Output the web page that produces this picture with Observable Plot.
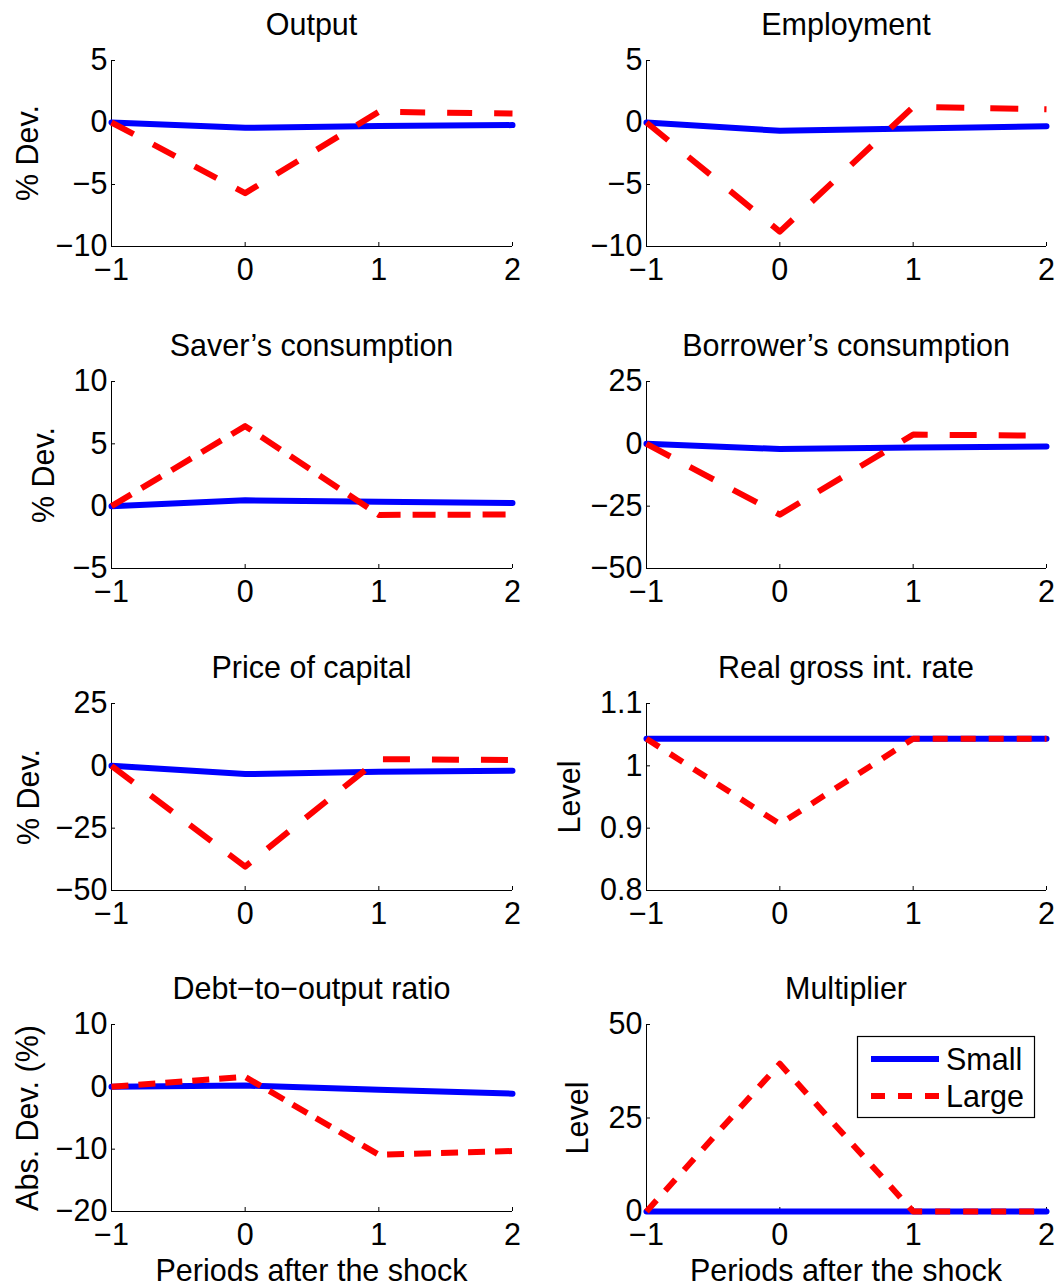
<!DOCTYPE html>
<html>
<head>
<meta charset="utf-8">
<script src="https://cdn.jsdelivr.net/npm/d3@7"></script>
<script src="https://cdn.jsdelivr.net/npm/@observablehq/plot@0.6"></script>
<style>
  html, body { margin: 0; padding: 0; background: #fff; }
  #fig { position: relative; width: 1057px; height: 1288px; background: #fff; overflow: hidden;
         font-family: "Liberation Sans", Arial, Helvetica, sans-serif; color: #000; }
  .txt { position: absolute; font-size: 30.5px; line-height: 30.5px; white-space: nowrap; }
  .ylab { position: absolute; font-size: 30.5px; line-height: 30.5px; white-space: nowrap;
          transform: translate(-50%, -50%) rotate(-90deg); }
  .panel { position: absolute; }
</style>
</head>
<body>
<div id="fig"></div>
<script>
// ---------- data ----------
const periods = [-1, 0, 1, 2];
const seriesNames = ["Small", "Large"];

const titles = ["Output", "Employment", "Saver’s consumption", "Borrower’s consumption",
                "Price of capital", "Real gross int. rate", "Debt−to−output ratio", "Multiplier"];
const yLabels = ["% Dev.", "", "% Dev.", "", "% Dev.", "Level", "Abs. Dev. (%)", "Level"];
const xLabels = ["", "", "", "", "", "", "Periods after the shock", "Periods after the shock"];

const yTicks = [
  [-10, -5, 0, 5],
  [-10, -5, 0, 5],
  [-5, 0, 5, 10],
  [-50, -25, 0, 25],
  [-50, -25, 0, 25],
  [0.8, 0.9, 1, 1.1],
  [-20, -10, 0, 10],
  [0, 25, 50]
];

const smallOutput     = [0, -0.43, -0.29, -0.21];
const largeOutput     = [0, -5.7, 0.86, 0.72];
const smallEmployment = [0, -0.67, -0.48, -0.30];
const largeEmployment = [0, -8.8, 1.26, 1.07];
const smallSaverC     = [0, 0.47, 0.36, 0.26];
const largeSaverC     = [0, 6.42, -0.70, -0.67];
const smallBorrowerC  = [0, -2.1, -1.5, -1.1];
const largeBorrowerC  = [0, -28.4, 3.7, 3.3];
const smallPriceK     = [0, -3.3, -2.4, -2.0];
const largePriceK     = [0, -40.4, 2.7, 2.3];
const smallRate       = [1.0434, 1.0434, 1.0434, 1.0434];
const largeRate       = [1.0434, 0.9067, 1.0434, 1.0434];
const smallDebt       = [0, 0.2, -0.45, -1.1];
const largeDebt       = [0, 1.6, -10.9, -10.3];
const smallMult       = [0, 0, 0, 0];
const largeMult       = [0, 39.5, 0, 0];

const smallSeries = [smallOutput, smallEmployment, smallSaverC, smallBorrowerC, smallPriceK, smallRate, smallDebt, smallMult];
const largeSeries = [largeOutput, largeEmployment, largeSaverC, largeBorrowerC, largePriceK, largeRate, largeDebt, largeMult];

// ---------- styles / layout ----------
const colors = {Small: "#0000ff", Large: "#ff0000"};
const dashes = ["25,22", "28,26", "23,12", "27,22", "27,22", "15,13", "17,10", "15,13"];
const lineW = 6;
const fs = 30.5;
const font = "'Liberation Sans', Arial, Helvetica, sans-serif";
const baseOff = fs * 0.8465; // baseline offset inside a line-height:1 div
const colFrame = [[111, 512], [646, 1046]];
const colSvg = [[0, 530], [530, 527]];
const rowFrame = [[60, 246], [381, 568], [703, 890], [1024, 1211]];
const yLabelX = [27, null, 43, null, 28, 569, 27, 577];

const fmt = d => (d < 0 ? "−" + Math.abs(d) : String(d));

const fig = document.getElementById("fig");

function addText(cls, text, left, top, extra) {
  const el = document.createElement("div");
  el.className = cls;
  el.textContent = text;
  el.style.left = left + "px";
  el.style.top = top + "px";
  if (extra) Object.assign(el.style, extra);
  fig.appendChild(el);
  return el;
}

for (let i = 0; i < 8; i++) {
  const col = i % 2, row = Math.floor(i / 2);
  const [fl, fr] = colFrame[col];
  const [ft, fb] = rowFrame[row];
  const [sl, sw] = colSvg[col];
  const mt = 20, mb = 50;
  const ticks = yTicks[i];
  const fw = fr - fl, fh = fb - ft;

  const small = periods.map((p, j) => ({p, v: smallSeries[i][j]}));
  const large = periods.map((p, j) => ({p, v: largeSeries[i][j]}));

  const svg = Plot.plot({
    width: sw,
    height: fh + mt + mb,
    marginLeft: fl - sl,
    marginRight: sl + sw - fr,
    marginTop: mt,
    marginBottom: mb,
    style: {fontFamily: font, fontSize: fs + "px", color: "#000", background: "transparent", overflow: "visible"},
    x: {domain: [periods[0], periods[periods.length - 1]]},
    y: {domain: [ticks[0], ticks[ticks.length - 1]]},
    marks: [
      Plot.axisX(periods, {tickSize: 0, tickPadding: 12, tickFormat: fmt, label: null}),
      Plot.axisY(ticks, {tickSize: 0, tickPadding: 4, tickFormat: fmt, label: null}),
      Plot.tickX(periods, {x: d => d, insetTop: fh - 4, stroke: "#000", strokeWidth: 1}),
      Plot.tickY(ticks, {y: d => d, insetRight: fw - 4, stroke: "#000", strokeWidth: 1}),
      Plot.ruleX([periods[0]], {stroke: "#000", strokeWidth: 1}),
      Plot.ruleY([ticks[0]], {stroke: "#000", strokeWidth: 1}),
      Plot.line(small, {x: "p", y: "v", stroke: colors.Small, strokeWidth: lineW, strokeLinejoin: "round"}),
      Plot.line(large, {x: "p", y: "v", stroke: colors.Large, strokeWidth: lineW, strokeDasharray: dashes[i], strokeLinecap: "butt", strokeLinejoin: "round"})
    ]
  });
  svg.classList.add("panel");
  svg.style.left = sl + "px";
  svg.style.top = (ft - mt) + "px";
  fig.appendChild(svg);

  addText("txt", titles[i], (fl + fr) / 2, ft - 25 - baseOff, {transform: "translateX(-50%)"});
  if (yLabels[i]) addText("ylab", yLabels[i], yLabelX[i], (ft + fb) / 2);
  if (xLabels[i]) addText("txt", xLabels[i], (fl + fr) / 2, fb + 70 - baseOff, {transform: "translateX(-50%)"});
}

// ---------- legend (in Multiplier panel) ----------
const ns = "http://www.w3.org/2000/svg";
const leg = document.createElementNS(ns, "svg");
leg.setAttribute("width", 180);
leg.setAttribute("height", 84);
leg.style.position = "absolute";
leg.style.left = "856px";
leg.style.top = "1035px";
leg.style.fontFamily = font;
leg.style.fontSize = fs + "px";
const rect = document.createElementNS(ns, "rect");
rect.setAttribute("x", 1.5); rect.setAttribute("y", 1.5);
rect.setAttribute("width", 177); rect.setAttribute("height", 81);
rect.setAttribute("fill", "#fff"); rect.setAttribute("stroke", "#000"); rect.setAttribute("stroke-width", 1.2);
leg.appendChild(rect);
seriesNames.forEach((name, k) => {
  const cy = 24 + k * 37;
  const ln = document.createElementNS(ns, "line");
  ln.setAttribute("x1", 15); ln.setAttribute("x2", 83);
  ln.setAttribute("y1", cy); ln.setAttribute("y2", cy);
  ln.setAttribute("stroke", colors[name]); ln.setAttribute("stroke-width", lineW);
  if (name === "Large") ln.setAttribute("stroke-dasharray", "14,13");
  leg.appendChild(ln);
  const t = document.createElementNS(ns, "text");
  t.setAttribute("x", 90); t.setAttribute("y", cy + 11);
  t.textContent = name;
  leg.appendChild(t);
});
fig.appendChild(leg);
</script>
</body>
</html>
